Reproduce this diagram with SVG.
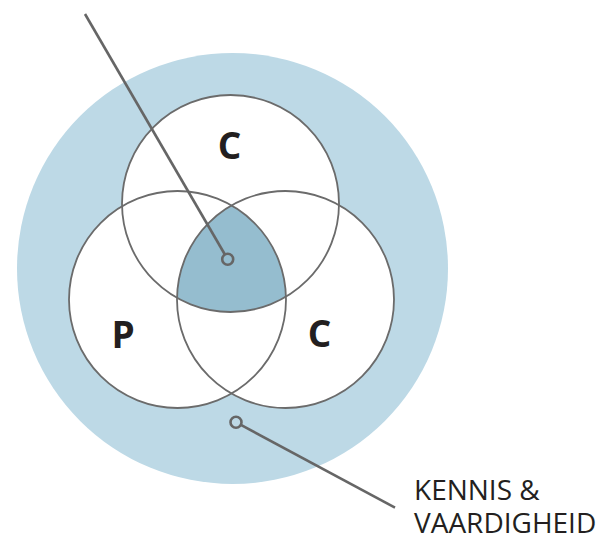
<svg xmlns="http://www.w3.org/2000/svg" width="599" height="534" viewBox="0 0 599 534">
  <style>
    .ring { stroke: #6b6b6b; stroke-width: 1.8; }
    .set { fill: #ffffff; }
    .lbl { font-family: "Open Sans", "Liberation Sans", sans-serif; font-weight: 700; font-size: 37px; fill: #231f20; text-anchor: middle; }
    .cap { font-family: "Open Sans", "Liberation Sans", sans-serif; font-size: 28px; fill: #231f20; }
    .lead { stroke: #666666; stroke-width: 2.6; fill: none; stroke-linecap: butt; }
  </style>
  <g id="kennis-vaardigheid">
    <circle cx="232.5" cy="268.5" r="215.5" fill="#bdd9e6"/>
  </g>
  <g id="set-c-top">
    <circle class="set" cx="230.5" cy="203.5" r="108.5"/>
  </g>
  <g id="set-p">
    <circle class="set" cx="177.5" cy="299.5" r="108.5"/>
  </g>
  <g id="set-c-right">
    <circle class="set" cx="285.5" cy="299.5" r="108.5"/>
  </g>
  <g id="core">
    <path d="M231.5 205.4 A108.5 108.5 0 0 0 177 297.9 A108.5 108.5 0 0 0 286 296.75 A108.5 108.5 0 0 0 231.5 205.4 Z" fill="#95bdcf"/>
  </g>
  <g id="outlines" fill="none">
    <circle class="ring" cx="230.5" cy="203.5" r="108.5"/>
    <circle class="ring" cx="177.5" cy="299.5" r="108.5"/>
    <circle class="ring" cx="285.5" cy="299.5" r="108.5"/>
  </g>
  <g id="labels">
    <text class="lbl" x="229.5" y="158.5">C</text>
    <text class="lbl" x="123" y="348">P</text>
    <text class="lbl" x="319.5" y="347">C</text>
    <text class="cap" x="414" y="499.5">KENNIS &amp;<tspan x="414" y="532.5">VAARDIGHEID</tspan></text>
  </g>
  <g id="connectors">
    <line class="lead" x1="85" y1="14" x2="224.9" y2="254.5"/>
    <circle class="lead" cx="227.7" cy="259.3" r="5.5"/>
    <line class="lead" x1="240.9" y1="424.9" x2="395" y2="507.7"/>
    <circle class="lead" cx="236" cy="422.3" r="5.5"/>
  </g>
</svg>
